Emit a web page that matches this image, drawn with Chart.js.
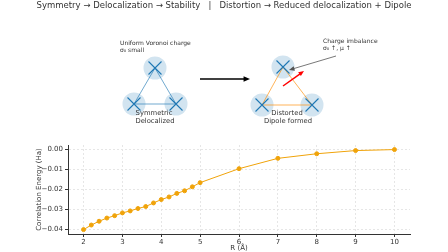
<!DOCTYPE html>
<html>
<head>
<meta charset="utf-8">
<script src="https://cdn.jsdelivr.net/npm/chart.js@4.4.1/dist/chart.umd.min.js"></script>
<style>
  html, body { margin: 0; padding: 0; background: #fff; }
  #wrap { width: 448px; height: 252px; }
</style>
</head>
<body>
<div id="wrap"><canvas id="corrChart" width="448" height="252"></canvas></div>
<script>
// separation R (Å) and correlation energy (Ha)
const rValues = [2.0, 2.2, 2.4, 2.6, 2.8, 3.0, 3.2, 3.4, 3.6, 3.8, 4.0, 4.2, 4.4, 4.6, 4.8, 5.0, 6, 7, 8, 9, 10];
const corrEnergy = [-0.0403, -0.0380, -0.0361, -0.0345, -0.0333, -0.0319, -0.0309, -0.0297, -0.0287, -0.0269,
    -0.0252, -0.0239, -0.0221, -0.0208, -0.0188, -0.0167, -0.0097, -0.0045, -0.0022, -0.0006, -0.0001];
const xTicks = [2, 3, 4, 5, 6, 7, 8, 9, 10];
const yTicks = [0.00, -0.01, -0.02, -0.03, -0.04];

const titleText = "Symmetry \u2192 Delocalization \u2192 Stability   |   Distortion \u2192 Reduced delocalization + Dipole";
const font = "'DejaVu Sans', sans-serif";

const lineColor = '#f0a30a';
const blue = '#1f77b4';

function drawX(ctx, x, y, s) {
    ctx.beginPath();
    ctx.moveTo(x - s, y - s); ctx.lineTo(x + s, y + s);
    ctx.moveTo(x - s, y + s); ctx.lineTo(x + s, y - s);
    ctx.stroke();
}

function arrow(ctx, x1, y1, x2, y2, color, width, head) {
    const a = Math.atan2(y2 - y1, x2 - x1);
    ctx.strokeStyle = color;
    ctx.fillStyle = color;
    ctx.lineWidth = width;
    ctx.beginPath();
    ctx.moveTo(x1, y1);
    ctx.lineTo(x2 - Math.cos(a) * head * 0.8, y2 - Math.sin(a) * head * 0.8);
    ctx.stroke();
    ctx.beginPath();
    ctx.moveTo(x2, y2);
    ctx.lineTo(x2 - head * Math.cos(a - 0.4), y2 - head * Math.sin(a - 0.4));
    ctx.lineTo(x2 - head * Math.cos(a + 0.4), y2 - head * Math.sin(a + 0.4));
    ctx.closePath();
    ctx.fill();
}

function cluster(ctx, pts, edgeColor, edgeWidth) {
    // charge clouds
    ctx.fillStyle = 'rgba(31,119,180,0.2)';
    pts.forEach(p => {
        ctx.beginPath();
        ctx.arc(p[0], p[1], 11.5, 0, Math.PI * 2);
        ctx.fill();
    });
    // bonds
    ctx.strokeStyle = edgeColor;
    ctx.lineWidth = edgeWidth;
    ctx.beginPath();
    ctx.moveTo(pts[0][0], pts[0][1]);
    ctx.lineTo(pts[1][0], pts[1][1]);
    ctx.lineTo(pts[2][0], pts[2][1]);
    ctx.closePath();
    ctx.stroke();
    // sites
    ctx.strokeStyle = blue;
    ctx.lineWidth = 1.1;
    pts.forEach(p => drawX(ctx, p[0], p[1], 6.5));
}

const diagramPlugin = {
    id: 'diagram',
    afterDraw(chart) {
        const ctx = chart.ctx;
        ctx.save();
        ctx.textBaseline = 'middle';

        ctx.fillStyle = '#333';
        ctx.font = '8.5px ' + font;
        ctx.textAlign = 'center';
        ctx.fillText(titleText, 224, 6);

        // left: symmetric cluster
        cluster(ctx, [[155, 68], [134, 104], [176, 104]], 'rgba(31,119,180,0.8)', 0.8);
        ctx.fillStyle = '#333';
        ctx.font = '6px ' + font;
        ctx.textAlign = 'left';
        ctx.fillText('Uniform Voronoi charge', 120, 43);
        ctx.fillText('\u03c3\u2080 small', 120, 50);
        ctx.textAlign = 'center';
        ctx.font = '6.8px ' + font;
        ctx.fillText('Symmetric', 154, 113);
        ctx.fillText('Delocalized', 155, 121);

        arrow(ctx, 200, 79, 250, 79, '#000', 1.4, 7);

        // right: distorted cluster
        cluster(ctx, [[283, 67], [262, 105], [312, 105]], 'rgba(255,140,0,0.65)', 1);
        arrow(ctx, 283, 86, 304, 71, 'red', 1.5, 6);
        arrow(ctx, 336, 56, 289, 70, '#555', 0.8, 6);
        ctx.fillStyle = '#333';
        ctx.font = '6px ' + font;
        ctx.textAlign = 'left';
        ctx.fillText('Charge imbalance', 323, 41);
        ctx.fillText('\u03c3\u2080 \u2191, \u03bc \u2191', 323, 48);
        ctx.textAlign = 'center';
        ctx.font = '6.8px ' + font;
        ctx.fillText('Distorted', 287, 113);
        ctx.fillText('Dipole formed', 288, 121);
        ctx.restore();
    }
};

const ctx = document.getElementById('corrChart');
new Chart(ctx, {
    type: 'scatter',
    data: {
        datasets: [{
            data: rValues.map((r, i) => ({ x: r, y: corrEnergy[i] })),
            showLine: true,
            borderColor: lineColor,
            backgroundColor: lineColor,
            borderWidth: 1,
            pointRadius: 2,
            pointHoverRadius: 2,
        }]
    },
    options: {
        responsive: false,
        animation: false,
        layout: { padding: { top: 145, right: 38, left: 35, bottom: 0 } },
        plugins: { legend: { display: false }, tooltip: { enabled: false } },
        scales: {
            x: {
                type: 'linear',
                min: 1.6,
                max: 10.4,
                afterBuildTicks: s => { s.ticks = xTicks.map(v => ({ value: v })); },
                afterFit: s => { s.height = 18; },
                grid: { color: '#e6e6e6', tickLength: 3, tickColor: '#333' },
                border: { color: '#333', width: 1, dash: [2, 2] },
                ticks: { font: { family: font, size: 7 }, color: '#333', padding: 1, maxRotation: 0 },
                title: { display: true, text: 'R (\u00c5)', font: { family: font, size: 7 }, color: '#333', padding: 0 }
            },
            y: {
                min: -0.0425,
                max: 0.0022,
                afterBuildTicks: s => { s.ticks = yTicks.map(v => ({ value: v })); },
                afterFit: s => { s.width = 33; },
                grid: { color: '#e6e6e6', tickLength: 3, tickColor: '#333' },
                border: { color: '#333', width: 1, dash: [2, 2] },
                ticks: {
                    font: { family: font, size: 7 }, color: '#333', padding: 2,
                    callback: v => v.toFixed(2).replace('-', '\u2212')
                },
                title: { display: true, text: 'Correlation Energy (Ha)', font: { family: font, size: 7 }, color: '#333', padding: 0 }
            }
        }
    },
    plugins: [diagramPlugin]
});
</script>
</body>
</html>
